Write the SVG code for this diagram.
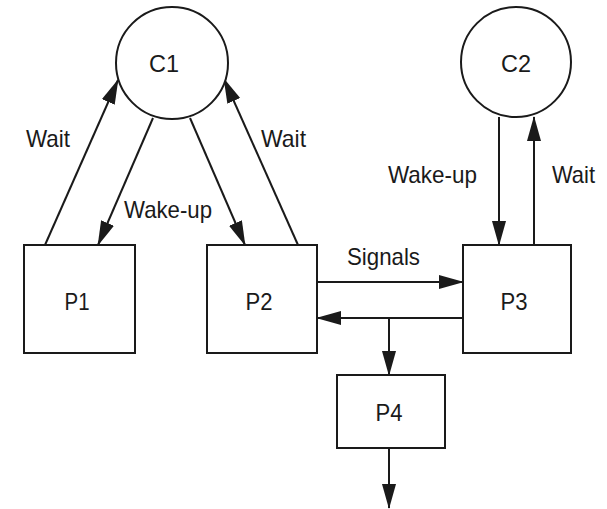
<svg xmlns="http://www.w3.org/2000/svg" width="607" height="509" viewBox="0 0 607 509">
<style>
.node{fill:#fff;stroke:#1a1a1a;stroke-width:2}
.edge{stroke:#1a1a1a;stroke-width:2;fill:none;marker-end:url(#arr)}
.lbl{font-family:"Liberation Sans",Arial,sans-serif;font-size:24px;fill:#1a1a1a}
.nl{font-family:"Liberation Sans",Arial,sans-serif;font-size:24px;fill:#1a1a1a;text-anchor:middle}
</style>
<defs>
<marker id="arr" markerUnits="userSpaceOnUse" markerWidth="26" markerHeight="15" refX="24" refY="7" orient="auto">
<path d="M0,0 L25,7 L0,14 Z" fill="#1a1a1a"/>
</marker>
</defs>
<rect width="607" height="509" fill="#fff"/>
<g id="connectors">
<line class="edge" x1="45" y1="245" x2="118" y2="80"/>
<line class="edge" x1="153" y1="118" x2="98" y2="245"/>
<line class="edge" x1="190" y1="118" x2="245" y2="245"/>
<line class="edge" x1="298" y1="245" x2="224" y2="79"/>
<line class="edge" x1="499" y1="117" x2="499" y2="245"/>
<line class="edge" x1="534" y1="245" x2="534" y2="117"/>
<line class="edge" x1="317" y1="282" x2="463" y2="282"/>
<line class="edge" x1="463" y1="318" x2="317" y2="318"/>
<line class="edge" x1="389" y1="318" x2="389" y2="375"/>
<line class="edge" x1="389" y1="448" x2="389" y2="508"/>
<text class="lbl" x="26" y="147" textLength="44" lengthAdjust="spacingAndGlyphs">Wait</text>
<text class="lbl" x="124" y="218" textLength="88" lengthAdjust="spacingAndGlyphs">Wake-up</text>
<text class="lbl" x="261" y="147" textLength="45" lengthAdjust="spacingAndGlyphs">Wait</text>
<text class="lbl" x="388" y="183" textLength="89" lengthAdjust="spacingAndGlyphs">Wake-up</text>
<text class="lbl" x="552" y="183" textLength="43" lengthAdjust="spacingAndGlyphs">Wait</text>
<text class="lbl" x="347" y="265" textLength="73" lengthAdjust="spacingAndGlyphs">Signals</text>
</g>
<g id="C1">
<circle class="node" cx="172" cy="63" r="56"/>
<text class="nl" x="164" y="72" textLength="30" lengthAdjust="spacingAndGlyphs">C1</text>
</g>
<g id="C2">
<circle class="node" cx="516" cy="62" r="55"/>
<text class="nl" x="516" y="72" textLength="30" lengthAdjust="spacingAndGlyphs">C2</text>
</g>
<g id="P1">
<rect class="node" x="24" y="245" width="111" height="108"/>
<text class="nl" x="77" y="310" textLength="25" lengthAdjust="spacingAndGlyphs">P1</text>
</g>
<g id="P2">
<rect class="node" x="207" y="245" width="110" height="108"/>
<text class="nl" x="259" y="310" textLength="27" lengthAdjust="spacingAndGlyphs">P2</text>
</g>
<g id="P3">
<rect class="node" x="463" y="245" width="108" height="108"/>
<text class="nl" x="514" y="310" textLength="27" lengthAdjust="spacingAndGlyphs">P3</text>
</g>
<g id="P4">
<rect class="node" x="337" y="375" width="108" height="73"/>
<text class="nl" x="389" y="421" textLength="27" lengthAdjust="spacingAndGlyphs">P4</text>
</g>
</svg>
